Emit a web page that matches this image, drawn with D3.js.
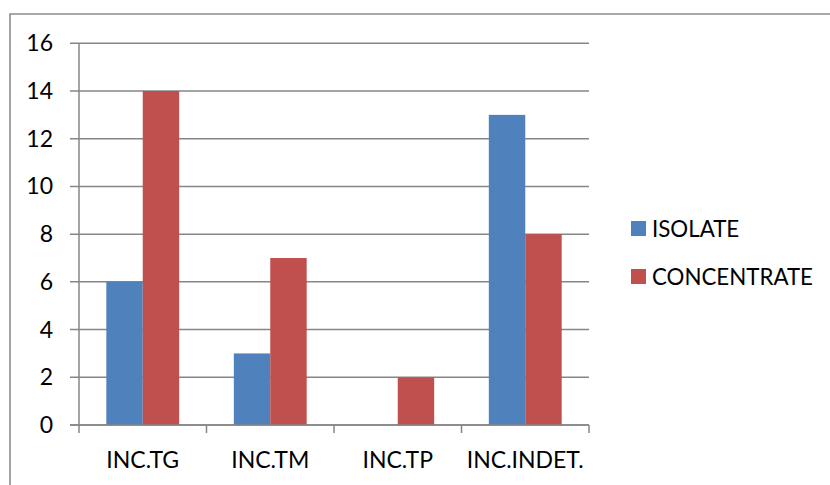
<!DOCTYPE html>
<html>
<head>
<meta charset="utf-8">
<script src="https://cdn.jsdelivr.net/npm/d3@7"></script>
<style>
  html, body { margin: 0; padding: 0; background: #fff; }
  svg { display: block; }
  text { font-family: Lato, "Open Sans", sans-serif; fill: #000; }
</style>
</head>
<body>
<svg id="chart" width="830" height="485"></svg>
<script>
// Counts per inclusion type
const categories = ["INC.TG", "INC.TM", "INC.TP", "INC.INDET."];
const seriesNames = ["ISOLATE", "CONCENTRATE"];
const isolate = [6, 3, 0, 13];
const concentrate = [14, 7, 2, 8];
const yTicks = [0, 2, 4, 6, 8, 10, 12, 14, 16];
const colors = ["#4F81BD", "#C0504D"];

const svg = d3.select("#chart");
const plot = { left: 79, right: 589, top: 43.3, bottom: 425 };
const gray = "#868686";

// Outer frame (top and left edges)
svg.append("path")
  .attr("d", "M10,490 L10,14 L832,14")
  .attr("fill", "none")
  .attr("stroke", "#8c8c8c")
  .attr("stroke-width", 1.6);

const x = d3.scaleBand().domain(categories).range([plot.left, plot.right]);
const bw = x.bandwidth() / 3.5;          // two bars + gap of 1.5 bar widths
const xs = d3.scaleBand().domain(seriesNames)
  .range([0, 2 * bw]);
const y = d3.scaleLinear().domain([0, 16]).range([plot.bottom, plot.top]);

// Horizontal gridlines
svg.append("g")
  .selectAll("line")
  .data(yTicks)
  .join("line")
  .attr("x1", plot.left - 9)
  .attr("x2", plot.right)
  .attr("y1", d => y(d))
  .attr("y2", d => y(d))
  .attr("stroke", gray)
  .attr("stroke-width", 1.5);

// Bars
const data = categories.map((c, i) => ({ cat: c, values: [isolate[i], concentrate[i]] }));
const groups = svg.append("g")
  .selectAll("g")
  .data(data)
  .join("g")
  .attr("transform", d => `translate(${x(d.cat) + (x.bandwidth() - 2 * bw) / 2},0)`);

groups.selectAll("rect")
  .data(d => d.values.map((v, j) => ({ name: seriesNames[j], v, j })))
  .join("rect")
  .attr("x", d => xs(d.name))
  .attr("width", xs.bandwidth())
  .attr("y", d => y(d.v))
  .attr("height", d => y(0) - y(d.v))
  .attr("fill", d => colors[d.j]);

// Y axis line
svg.append("line")
  .attr("x1", plot.left).attr("x2", plot.left)
  .attr("y1", plot.top).attr("y2", plot.bottom)
  .attr("stroke", gray).attr("stroke-width", 1.5);

// X axis line and category ticks
svg.append("line")
  .attr("x1", plot.left - 9).attr("x2", plot.right)
  .attr("y1", plot.bottom).attr("y2", plot.bottom)
  .attr("stroke", gray).attr("stroke-width", 1.5);

const boundaries = categories.map(c => x(c)).concat([plot.right]);
svg.append("g")
  .selectAll("line")
  .data(boundaries)
  .join("line")
  .attr("x1", d => d).attr("x2", d => d)
  .attr("y1", plot.bottom).attr("y2", plot.bottom + 8)
  .attr("stroke", gray).attr("stroke-width", 1.5);

// Y tick labels
svg.append("g")
  .selectAll("text")
  .data(yTicks)
  .join("text")
  .attr("x", 53)
  .attr("y", d => y(d) + 8)
  .attr("text-anchor", "end")
  .attr("font-size", 23)
  .text(d => d);

// Category labels
svg.append("g")
  .selectAll("text")
  .data(categories)
  .join("text")
  .attr("x", d => x(d) + x.bandwidth() / 2)
  .attr("y", 468)
  .attr("text-anchor", "middle")
  .attr("font-size", 23)
  .text(d => d);

// Legend
const legend = svg.append("g");
const legendY = [221, 269];
seriesNames.forEach((name, i) => {
  legend.append("rect")
    .attr("x", 631).attr("y", legendY[i])
    .attr("width", 15).attr("height", 15)
    .attr("fill", colors[i]);
  legend.append("text")
    .attr("x", 652).attr("y", legendY[i] + 16)
    .attr("font-size", 22.3)
    .text(name);
});
</script>
</body>
</html>
